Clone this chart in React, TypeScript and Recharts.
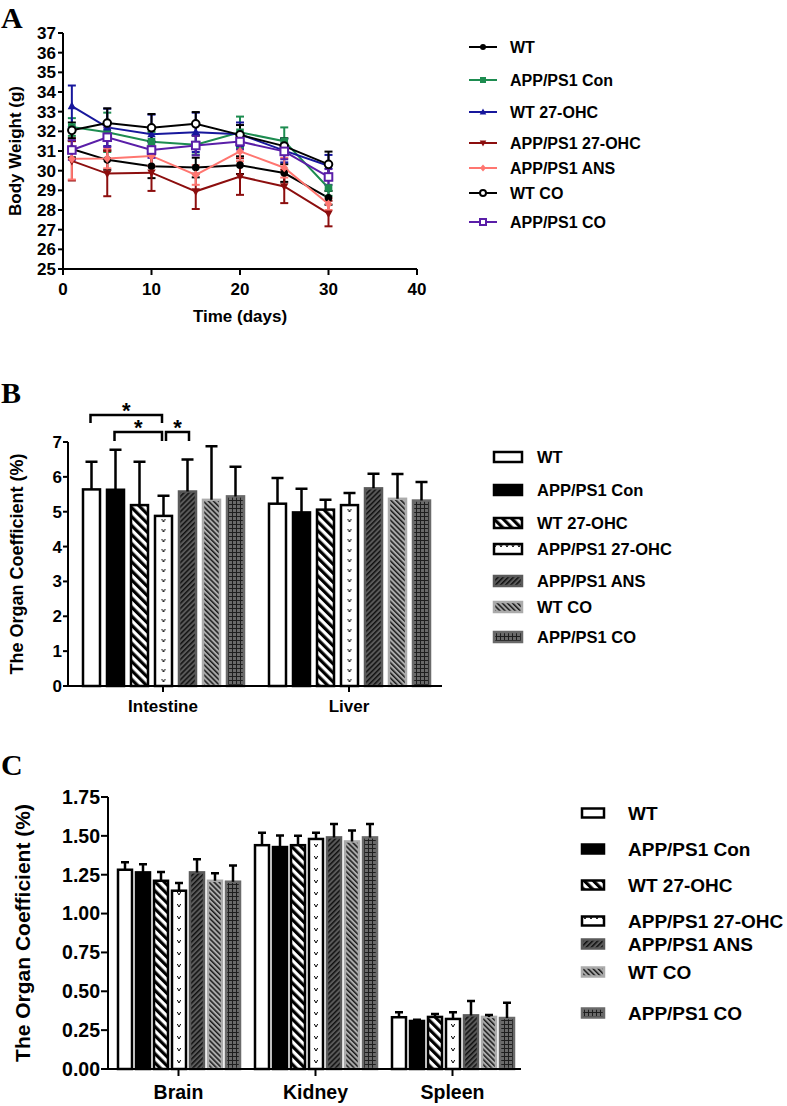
import React from "react";
import { LineChart, Line, XAxis, YAxis, ErrorBar, BarChart, Bar } from "recharts";

const FONT = '"Liberation Sans", Arial, Helvetica, sans-serif';
const SERIF = '"Liberation Serif", "Times New Roman", serif';

const groups = ["WT", "APP/PS1 Con", "WT 27-OHC", "APP/PS1 27-OHC", "APP/PS1 ANS", "WT CO", "APP/PS1 CO"];

// ---- Panel A: body weight (g) over time (days)
const days = [1, 5, 10, 15, 20, 25, 30];
const wtWeight = [31.1, 30.55, 30.22, 30.16, 30.28, 29.88, 28.62];
const conWeight = [32.22, 31.95, 31.47, 31.32, 31.95, 31.5, 29.12];
const wt27Weight = [33.28, 32.2, 31.85, 31.95, 31.85, 31.02, 30.25];
const app27Weight = [30.5, 29.85, 29.9, 28.95, 29.7, 29.2, 27.82];
const ansWeight = [30.6, 30.62, 30.75, 29.78, 30.98, 30.15, 28.3];
const wtcoWeight = [32.05, 32.42, 32.18, 32.38, 31.82, 31.25, 30.32];
const appcoWeight = [31.05, 31.7, 31.05, 31.28, 31.48, 30.98, 29.68];

const wtWeightErr = [0.42, 0.5, 0.6, 0.5, 0.45, 0.45, 0.35];
const conWeightErr = [0.45, 1.0, 0.5, 0.5, 0.8, 0.7, 0.4];
const wt27WeightErr = [1.05, 0.95, 1.0, 1.0, 0.6, 0.6, 0.55];
const app27WeightErr = [1.0, 1.15, 0.93, 0.9, 0.93, 0.85, 0.65];
const ansWeightErr = [1.05, 0.5, 0.5, 0.5, 0.5, 0.5, 0.3];
const wtcoWeightErr = [0.4, 0.75, 0.7, 0.6, 0.5, 0.4, 0.65];
const appcoWeightErr = [0.5, 0.5, 0.4, 0.5, 0.4, 0.4, 0.4];

const weightTicksA = [25, 26, 27, 28, 29, 30, 31, 32, 33, 34, 35, 36, 37];
const dayTicksA = [0, 10, 20, 30, 40];

// ---- Panel B: intestine / liver organ coefficient (%)
const organsB = ["Intestine", "Liver"];
const wtB = [5.64, 5.23];
const conB = [5.63, 4.98];
const wt27B = [5.19, 5.06];
const app27B = [4.88, 5.19];
const ansB = [5.58, 5.67];
const wtcoB = [5.34, 5.37];
const appcoB = [5.44, 5.32];

const wtBErr = [0.79, 0.74];
const conBErr = [1.15, 0.68];
const wt27BErr = [1.24, 0.28];
const app27BErr = [0.58, 0.35];
const ansBErr = [0.92, 0.42];
const wtcoBErr = [1.54, 0.71];
const appcoBErr = [0.85, 0.53];

const coefTicksB = [0, 1, 2, 3, 4, 5, 6, 7];

// significance brackets on Intestine: [from group, to group, height]
const starsB = [
  [0, 3, 7.775],
  [1, 3, 7.29],
  [3, 4, 7.29],
];

// ---- Panel C: brain / kidney / spleen organ coefficient (%)
const organsC = ["Brain", "Kidney", "Spleen"];
const wtC = [1.282, 1.44, 0.333];
const conC = [1.265, 1.428, 0.309];
const wt27C = [1.211, 1.44, 0.335];
const app27C = [1.147, 1.48, 0.322];
const ansC = [1.265, 1.49, 0.345];
const wtcoC = [1.211, 1.464, 0.335];
const appcoC = [1.205, 1.49, 0.328];

const wtCErr = [0.048, 0.08, 0.032];
const conCErr = [0.053, 0.075, 0.008];
const wt27CErr = [0.056, 0.06, 0.019];
const app27CErr = [0.049, 0.04, 0.043];
const ansCErr = [0.085, 0.086, 0.092];
const wtcoCErr = [0.048, 0.071, 0.013];
const appcoCErr = [0.105, 0.086, 0.098];

const coefTicksC = [0, 0.25, 0.5, 0.75, 1.0, 1.25, 1.5, 1.75];

const weightSeries = [wtWeight, conWeight, wt27Weight, app27Weight, ansWeight, wtcoWeight, appcoWeight];
const weightErrs = [wtWeightErr, conWeightErr, wt27WeightErr, app27WeightErr, ansWeightErr, wtcoWeightErr, appcoWeightErr];
const seriesB = [wtB, conB, wt27B, app27B, ansB, wtcoB, appcoB];
const errsB = [wtBErr, conBErr, wt27BErr, app27BErr, ansBErr, wtcoBErr, appcoBErr];
const seriesC = [wtC, conC, wt27C, app27C, ansC, wtcoC, appcoC];
const errsC = [wtCErr, conCErr, wt27CErr, app27CErr, ansCErr, wtcoCErr, appcoCErr];

const dataA = days.map((d, i) => {
  const row: any = { day: d };
  weightSeries.forEach((s, k) => {
    row[`s${k}`] = s[i];
    row[`e${k}`] = weightErrs[k][i];
  });
  return row;
});

const toRows = (cats: string[], series: number[][], errs: number[][]) =>
  cats.map((c, i) => {
    const row: any = { organ: c };
    series.forEach((s, k) => {
      row[`s${k}`] = s[i];
      row[`e${k}`] = errs[k][i];
    });
    return row;
  });

const dataB = toRows(organsB, seriesB, errsB);
const dataC = toRows(organsC, seriesC, errsC);

const lineLooks = [
  { color: "#000000", marker: "circle" },
  { color: "#1d8c50", marker: "square" },
  { color: "#17179c", marker: "triangle" },
  { color: "#8c0e0e", marker: "triangleDown" },
  { color: "#ff7670", marker: "diamond" },
  { color: "#000000", marker: "openCircle" },
  { color: "#5a1ea8", marker: "openSquare" },
];

const barLooks = [
  { fill: "#ffffff", stroke: "#000000" },
  { fill: "#000000", stroke: "#000000" },
  { fill: "url(#hatch-wt27)", stroke: "#000000" },
  { fill: "url(#vmark)", stroke: "#000000", vmark: true },
  { fill: "url(#hatch-ans)", stroke: "#5a5a5a" },
  { fill: "url(#hatch-wtco)", stroke: "#ababab" },
  { fill: "url(#grid-appco)", stroke: "#6a6a6a" },
];

const legendRowsA = [47, 80, 112, 143, 168, 193, 222];
const legendRowsB = [457, 490, 523, 549, 581, 607, 637];
const legendRowsC = [813, 849, 885, 921, 944, 972, 1013];

const axisStyle = { stroke: "#000", strokeWidth: 2 };

function Marker({ cx, cy, kind, color, r }: any) {
  if (cx == null || cy == null) return null;
  switch (kind) {
    case "circle":
      return <circle cx={cx} cy={cy} r={r} fill={color} />;
    case "square":
      return <rect x={cx - r} y={cy - r} width={r * 2} height={r * 2} fill={color} />;
    case "triangle":
      return <path d={`M${cx},${cy - r * 1.2}L${cx + r * 1.1},${cy + r * 0.8}L${cx - r * 1.1},${cy + r * 0.8}Z`} fill={color} />;
    case "triangleDown":
      return <path d={`M${cx},${cy + r * 1.2}L${cx + r * 1.1},${cy - r * 0.8}L${cx - r * 1.1},${cy - r * 0.8}Z`} fill={color} />;
    case "diamond":
      return <path d={`M${cx},${cy - r * 1.2}L${cx + r},${cy}L${cx},${cy + r * 1.2}L${cx - r},${cy}Z`} fill={color} />;
    case "openCircle":
      return <circle cx={cx} cy={cy} r={r} fill="#fff" stroke={color} strokeWidth={2} />;
    default:
      return <rect x={cx - r} y={cy - r} width={r * 2} height={r * 2} fill="#fff" stroke={color} strokeWidth={2} />;
  }
}

function renderBar(p: any, k: number, cfg: any) {
  const look = barLooks[k];
  const v = p.payload[`s${k}`];
  const e = p.payload[`e${k}`];
  if (!p.height || !v) return <g />;
  const ppu = p.height / v;
  const baseY = p.y + p.height;
  const yOf = (val: number) => baseY - val * ppu;
  const cx = p.x + p.width / 2;
  const errY = yOf(v + e);
  let fill = look.fill;
  const pid = `vm-${cfg.id}-${p.index}`;
  if (look.vmark) fill = `url(#${pid})`;
  const notes = (cfg.stars || []).filter((s: number[]) => s[0] === k && p.index === 0);
  return (
    <g>
      {look.vmark && (
        <defs>
          <pattern id={pid} patternUnits="userSpaceOnUse" x={cx - 4} y={baseY} width={p.width * 2} height={cfg.vStep}>
            <rect width={p.width * 2} height={cfg.vStep} fill="#fff" />
            <path d="M2.3 3L4 6L5.7 3" stroke="#000" strokeWidth={1} fill="none" />
          </pattern>
        </defs>
      )}
      <rect x={p.x} y={p.y} width={p.width} height={p.height} fill={fill} stroke={look.stroke} strokeWidth={2.5} />
      <path d={`M${cx},${p.y}V${errY}M${cx - cfg.cap},${errY}H${cx + cfg.cap}`} stroke="#000" strokeWidth={2.5} fill="none" />
      {notes.map((s: number[], j: number) => {
        const step = p.width + cfg.gap;
        const x1 = cx + (s[0] === 3 ? 2.5 : -1);
        const x2 = cx + (s[1] - s[0]) * step + (s[1] === 3 ? -1.5 : 1.5);
        const yb = yOf(s[2]);
        const leg = yb + (s[2] > 7.5 ? 8 : 9);
        return (
          <g key={j}>
            <path d={`M${x1},${leg}V${yb}H${x2}V${leg}`} stroke="#000" strokeWidth={2.5} fill="none" />
            <text x={(x1 + x2) / 2} y={yb + 3.5} textAnchor="middle" fontSize={22} fontWeight={700} fontFamily={FONT}>
              *
            </text>
          </g>
        );
      })}
    </g>
  );
}

function Patterns() {
  return (
    <svg width={0} height={0} style={{ position: "absolute" }}>
      <defs>
        <pattern id="hatch-wt27" patternUnits="userSpaceOnUse" width={6.4} height={6.4} patternTransform="rotate(-45)">
          <rect width={6.4} height={6.4} fill="#fff" />
          <rect width={3.2} height={6.4} fill="#000" />
        </pattern>
        <pattern id="hatch-ans" patternUnits="userSpaceOnUse" width={3.6} height={3.6} patternTransform="rotate(45)">
          <rect width={3.6} height={3.6} fill="#5a5a5a" />
          <rect width={1.5} height={3.6} fill="#111" />
        </pattern>
        <pattern id="hatch-wtco" patternUnits="userSpaceOnUse" width={3.6} height={3.6} patternTransform="rotate(-45)">
          <rect width={3.6} height={3.6} fill="#ababab" />
          <rect width={1.5} height={3.6} fill="#1a1a1a" />
        </pattern>
        <pattern id="grid-appco" patternUnits="userSpaceOnUse" width={4} height={4}>
          <rect width={4} height={4} fill="#6a6a6a" />
          <path d="M0 0.5H4M0.5 0V4" stroke="#1e1e1e" strokeWidth={1} />
        </pattern>
        <pattern id="vmark" patternUnits="userSpaceOnUse" width={6} height={12}>
          <rect width={6} height={12} fill="#fff" />
          <path d="M1.3 4L3 7L4.7 4" stroke="#000" strokeWidth={1} fill="none" />
        </pattern>
      </defs>
    </svg>
  );
}

const tickFont = (size: number) => ({ fill: "#000", fontSize: size, fontWeight: 700, fontFamily: FONT });

function WeightChart() {
  return (
    <LineChart width={430} height={340} data={dataA} margin={{ top: 33, right: 13, bottom: 0, left: 0 }}>
      <XAxis
        type="number"
        dataKey="day"
        domain={[0, 40]}
        ticks={dayTicksA}
        interval={0}
        height={71}
        axisLine={axisStyle}
        tickLine={axisStyle}
        tickSize={6}
        tickMargin={8}
        tick={tickFont(17)}
        label={{ value: "Time (days)", position: "insideBottom", offset: 18, style: { ...tickFont(17), textAnchor: "middle" } }}
      />
      <YAxis
        type="number"
        domain={[25, 37]}
        ticks={weightTicksA}
        interval={0}
        width={63}
        axisLine={axisStyle}
        tickLine={axisStyle}
        tickSize={5}
        tickMargin={2}
        tick={tickFont(17)}
        label={{ value: "Body Weight (g)", angle: -90, position: "insideLeft", offset: 15, style: { ...tickFont(17), textAnchor: "middle" } }}
      />
      {lineLooks.map((look, k) => (
        <Line
          key={k}
          dataKey={`s${k}`}
          stroke={look.color}
          strokeWidth={2}
          isAnimationActive={false}
          activeDot={false}
          dot={(p: any) => <Marker key={p.index} cx={p.cx} cy={p.cy} kind={look.marker} color={look.color} r={3.8} />}
        >
          <ErrorBar dataKey={`e${k}`} width={4} strokeWidth={2} stroke={look.color} direction="y" isAnimationActive={false} />
        </Line>
      ))}
    </LineChart>
  );
}

function OrganChart({ id, data, width, height, margin, yWidth, xHeight, ticks, domain, tickFmt, barSize, gap, cap, vStep, stars, font, titleFont, titleOffset, yTickSize, xTickSize, xTickMargin }: any) {
  const cfg = { id, gap, cap, vStep, stars };
  return (
    <BarChart width={width} height={height} data={data} margin={margin} barSize={barSize} barGap={gap}>
      <XAxis
        dataKey="organ"
        height={xHeight}
        padding={{ left: 2, right: 0 }}
        axisLine={axisStyle}
        tickLine={axisStyle}
        tickSize={xTickSize}
        tickMargin={xTickMargin}
        tick={tickFont(font)}
      />
      <YAxis
        type="number"
        domain={domain}
        ticks={ticks}
        interval={0}
        width={yWidth}
        axisLine={axisStyle}
        tickLine={axisStyle}
        tickSize={yTickSize}
        tickMargin={1}
        tickFormatter={tickFmt}
        tick={tickFont(font)}
        label={{ value: "The Organ Coefficient (%)", angle: -90, position: "insideLeft", offset: titleOffset, style: { ...tickFont(titleFont), textAnchor: "middle" } }}
      />
      {barLooks.map((look, k) => (
        <Bar key={k} dataKey={`s${k}`} fill={look.stroke} isAnimationActive={false} shape={(p: any) => renderBar(p, k, cfg)} />
      ))}
    </BarChart>
  );
}

function LegendMarks() {
  return (
    <svg width={787} height={1106} style={{ position: "absolute", left: 0, top: 0, pointerEvents: "none" }}>
      <text x={1} y={28} fontFamily={SERIF} fontWeight={700} fontSize={30}>A</text>
      <text x={1} y={403} fontFamily={SERIF} fontWeight={700} fontSize={30}>B</text>
      <text x={1} y={775} fontFamily={SERIF} fontWeight={700} fontSize={30}>C</text>

      {groups.map((g, k) => {
        const y = legendRowsA[k];
        const look = lineLooks[k];
        return (
          <g key={`a${k}`}>
            <line x1={469} x2={497} y1={y} y2={y} stroke={look.color} strokeWidth={2} />
            <Marker cx={483} cy={y} kind={look.marker} color={look.color} r={3} />
            <text x={510} y={y + 6} fontFamily={FONT} fontWeight={700} fontSize={16}>{g}</text>
          </g>
        );
      })}

      {groups.map((g, k) => {
        const y = legendRowsB[k];
        const look = barLooks[k];
        return (
          <g key={`b${k}`}>
            <rect x={494} y={y - 5} width={28} height={10} fill={look.fill} stroke={look.stroke} strokeWidth={2.5} />
            <text x={537} y={y + 6} fontFamily={FONT} fontWeight={700} fontSize={16.5}>{g}</text>
          </g>
        );
      })}

      {groups.map((g, k) => {
        const y = legendRowsC[k];
        const look = barLooks[k];
        return (
          <g key={`c${k}`}>
            <rect x={582} y={y - 4.5} width={22} height={9} fill={look.fill} stroke={look.stroke} strokeWidth={2.5} />
            <text x={628} y={y + 7} fontFamily={FONT} fontWeight={700} fontSize={19}>{g}</text>
          </g>
        );
      })}
    </svg>
  );
}

export default function App() {
  return (
    <div style={{ position: "absolute", left: 0, top: 0, width: 787, height: 1106, background: "#fff", fontFamily: FONT }}>
      <Patterns />
      <div style={{ position: "absolute", left: 0, top: 0 }}>
        <WeightChart />
      </div>
      <div style={{ position: "absolute", left: 0, top: 360 }}>
        <OrganChart
          id="b"
          data={dataB}
          width={450}
          height={360}
          margin={{ top: 82, right: 8, bottom: 0, left: 0 }}
          yWidth={68}
          xHeight={34}
          ticks={coefTicksB}
          domain={[0, 7]}
          tickFmt={(v: number) => String(v)}
          barSize={17}
          gap={7}
          cap={6}
          vStep={10}
          stars={starsB}
          font={17}
          titleFont={18}
          titleOffset={17}
          yTickSize={5}
          xTickSize={6}
          xTickMargin={8}
        />
      </div>
      <div style={{ position: "absolute", left: 0, top: 720 }}>
        <OrganChart
          id="c"
          data={dataC}
          width={530}
          height={386}
          margin={{ top: 77, right: 9, bottom: 0, left: 0 }}
          yWidth={108}
          xHeight={37}
          ticks={coefTicksC}
          domain={[0, 1.75]}
          tickFmt={(v: number) => v.toFixed(2)}
          barSize={14}
          gap={4}
          cap={4}
          vStep={12}
          stars={[]}
          font={19.5}
          titleFont={21}
          titleOffset={23}
          yTickSize={7}
          xTickSize={7}
          xTickMargin={9}
        />
      </div>
      <LegendMarks />
    </div>
  );
}
